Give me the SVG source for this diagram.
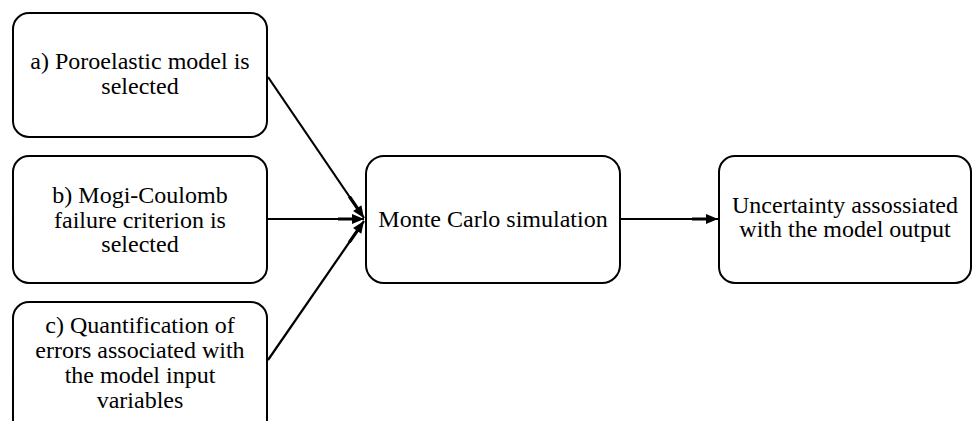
<svg xmlns="http://www.w3.org/2000/svg" width="973" height="421" viewBox="0 0 973 421">
<defs>
<marker id="ah" viewBox="0 0 26 12" refX="26" refY="6" markerWidth="26" markerHeight="12" orient="auto" markerUnits="userSpaceOnUse">
<path d="M0,4.4 H15 V7.6 H0 z M14,1 L26,6 L14,11 z" fill="#000"/>
</marker>
</defs>
<rect width="973" height="421" fill="#fff"/>
<g id="connectors" stroke="#000" stroke-width="2.2" fill="none">
<line x1="268" y1="77" x2="364" y2="218" marker-end="url(#ah)"/>
<line x1="267" y1="219" x2="364" y2="219" marker-end="url(#ah)"/>
<line x1="268" y1="360" x2="364" y2="221" marker-end="url(#ah)"/>
<line x1="620" y1="219" x2="718" y2="219" marker-end="url(#ah)"/>
</g>
<g id="node-a">
<rect x="13" y="13" width="254" height="124" rx="16" fill="#fff" stroke="#000" stroke-width="2"/>
<text x="140" y="69" font-family="Liberation Serif" font-size="24" text-anchor="middle">a) Poroelastic model is</text>
<text x="140" y="94" font-family="Liberation Serif" font-size="24" text-anchor="middle">selected</text>
</g>
<g id="node-b">
<rect x="13" y="156" width="254" height="127" rx="16" fill="#fff" stroke="#000" stroke-width="2"/>
<text x="140" y="203" font-family="Liberation Serif" font-size="24" text-anchor="middle">b) Mogi-Coulomb</text>
<text x="140" y="228" font-family="Liberation Serif" font-size="24" text-anchor="middle">failure criterion is</text>
<text x="140" y="252" font-family="Liberation Serif" font-size="24" text-anchor="middle">selected</text>
</g>
<g id="node-c">
<rect x="13" y="302" width="254" height="140" rx="16" fill="#fff" stroke="#000" stroke-width="2"/>
<text x="140" y="333" font-family="Liberation Serif" font-size="24" text-anchor="middle">c) Quantification of</text>
<text x="140" y="358" font-family="Liberation Serif" font-size="24" text-anchor="middle">errors associated with</text>
<text x="140" y="383" font-family="Liberation Serif" font-size="24" text-anchor="middle">the model input</text>
<text x="140" y="408" font-family="Liberation Serif" font-size="24" text-anchor="middle">variables</text>
</g>
<g id="node-mc">
<rect x="366" y="156" width="254" height="127" rx="18" fill="#fff" stroke="#000" stroke-width="2"/>
<text x="493" y="227" font-family="Liberation Serif" font-size="24" text-anchor="middle">Monte Carlo simulation</text>
</g>
<g id="node-u">
<rect x="719" y="156" width="252" height="127" rx="16" fill="#fff" stroke="#000" stroke-width="2"/>
<text x="845" y="213" font-family="Liberation Serif" font-size="24" text-anchor="middle">Uncertainty assossiated</text>
<text x="845" y="237" font-family="Liberation Serif" font-size="24" text-anchor="middle">with the model output</text>
</g>
</svg>
